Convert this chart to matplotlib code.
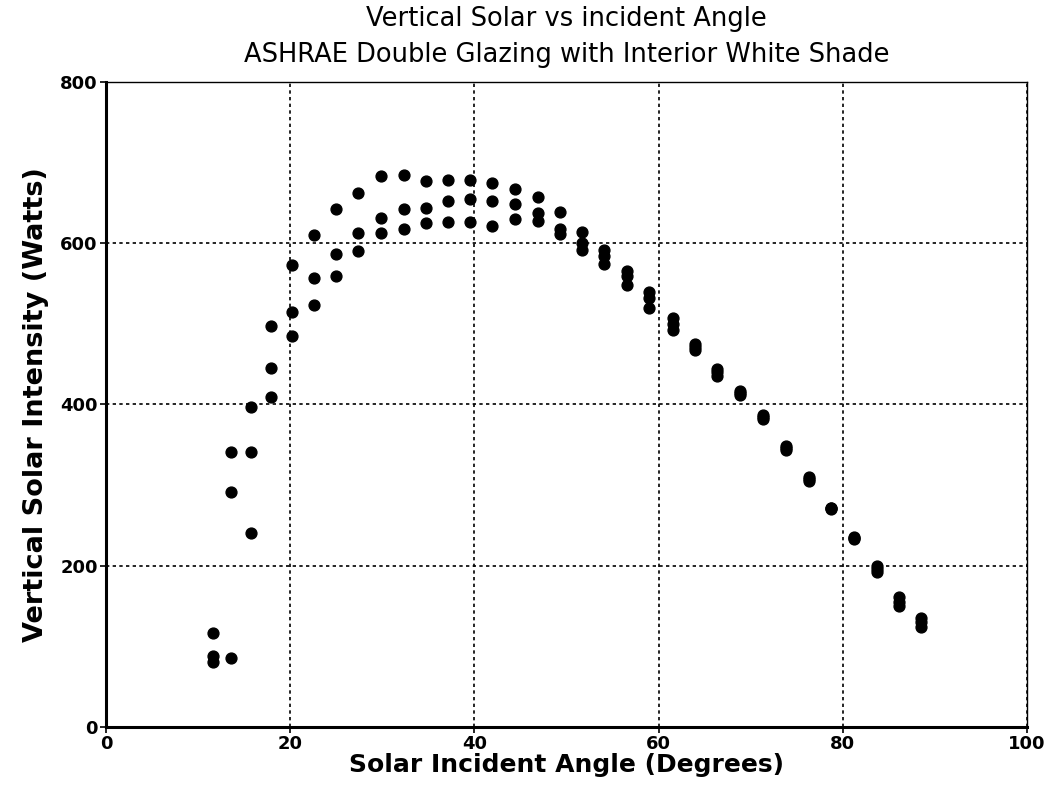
import numpy as np
import matplotlib
matplotlib.use("Agg")
import matplotlib.pyplot as plt

# incident angle (deg) and the three readings taken at each angle
angles = [11.6, 13.6, 15.7, 17.9, 20.2, 22.6, 25.0, 27.4, 29.9, 32.3, 34.7,
          37.1, 39.5, 41.9, 44.4, 46.9, 49.3, 51.7, 54.1, 56.6, 59.0, 61.6,
          64.0, 66.4, 68.9, 71.3, 73.8, 76.3, 78.7, 81.2, 83.7, 86.1, 88.5]
upper = [116, 341, 397, 497, 573, 610, 643, 663, 683, 685, 677,
         679, 679, 675, 668, 658, 639, 614, 592, 566, 539, 507,
         475, 444, 417, 387, 349, 310, 272, 235, 200, 161, 135]
middle = [88, 292, 341, 445, 515, 557, 587, 613, 632, 643, 644,
          653, 655, 653, 649, 638, 618, 601, 584, 560, 532, 500,
          471, 440, 414, 384, 346, 307, 271, 234, 196, 155, 130]
lower = [80, 86, 240, 409, 485, 524, 559, 591, 613, 618, 625,
         627, 627, 622, 630, 628, 612, 592, 574, 548, 520, 493,
         468, 435, 412, 382, 344, 305, 270, 233, 192, 150, 124]

xticks = [0, 20, 40, 60, 80, 100]
yticks = [0, 200, 400, 600, 800]

plt.rcParams['font.family'] = ['DejaVu Sans']
fig = plt.figure(figsize=(10.51, 7.9), dpi=100)
ax = fig.add_axes([0.101, 0.080, 0.876, 0.816])

for series in (upper, middle, lower):
    ax.plot(angles, series, 'o', color='black', markersize=7.8, linestyle='none')

ax.set_xlim(0, 100)
ax.set_ylim(0, 800)
ax.set_xticks(xticks)
ax.set_yticks(yticks)
ax.set_xticklabels([str(t) for t in xticks], fontsize=13, fontweight='bold')
ax.set_yticklabels([str(t) for t in yticks], fontsize=13, fontweight='bold')
ax.tick_params(direction='out', length=4, width=1.2, pad=2)
ax.grid(True, color='black', linestyle=(0, (2, 2)), linewidth=1.2)

for side in ('left', 'bottom'):
    ax.spines[side].set_linewidth(2.2)
for side in ('top', 'right'):
    ax.spines[side].set_linewidth(1.0)

ax.set_xlabel('Solar Incident Angle (Degrees)', fontsize=18, fontweight='bold', labelpad=0)
ax.set_ylabel('Vertical Solar Intensity (Watts)', fontsize=19.5, fontweight='bold', labelpad=8)

fig.text(0.539, 0.976, 'Vertical Solar vs incident Angle', ha='center', va='center',
         fontsize=18.5, fontweight='medium')
fig.text(0.539, 0.930, 'ASHRAE Double Glazing with Interior White Shade', ha='center',
         va='center', fontsize=18.5, fontweight='medium')

plt.savefig('out.png', dpi=100)
